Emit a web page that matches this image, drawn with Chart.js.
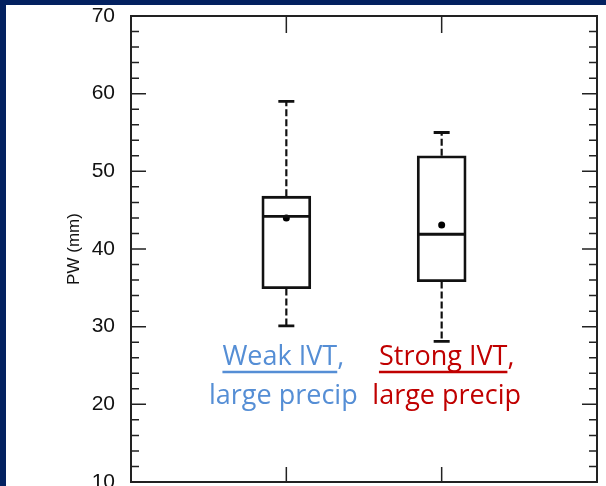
<!DOCTYPE html>
<html lang="en">
<head>
  <meta charset="UTF-8" />
  <title>PW box plot</title>
  <script src="https://cdn.jsdelivr.net/npm/chart.js"></script>
  <style>
    html, body {
      margin: 0;
      padding: 0;
      width: 606px;
      height: 486px;
      overflow: hidden;
      background: #032160;
    }
    .panel {
      position: absolute;
      left: 6px;
      top: 5px;
      width: 600px;
      height: 481px;
      background: #ffffff;
      overflow: hidden;
    }
  </style>
</head>
<body>
  <div class="panel">
    <canvas id="pwChart" width="600" height="520"></canvas>
  </div>

  <script>
    // box plot stats
    const categories = ['Weak IVT', 'Strong IVT'];
    const whiskerLow = [30.1, 28.1];
    const q1 = [34.9, 35.8];
    const median = [44.2, 41.9];
    const q3 = [46.8, 52.0];
    const whiskerHigh = [59.0, 55.0];
    const means = [44.0, 43.1];
    const yTicks = [10, 20, 30, 40, 50, 60, 70];

    const labelLine1 = ['Weak IVT', 'Strong IVT'];
    const labelLine2 = ['large precip', 'large precip'];
    const labelColors = ['#558ed5', '#c00000'];

    const boxPlotExtras = {
      id: 'boxPlotExtras',
      afterDatasetsDraw(chart) {
        const ctx = chart.ctx;
        const x = chart.scales.x;
        const y = chart.scales.y;
        const area = chart.chartArea;
        ctx.save();

        // whiskers
        ctx.strokeStyle = '#111';
        categories.forEach((c, i) => {
          const cx = x.getPixelForValue(i + 1);
          ctx.lineWidth = 2.2;
          ctx.setLineDash([7, 3]);
          ctx.beginPath();
          ctx.moveTo(cx, y.getPixelForValue(q3[i]));
          ctx.lineTo(cx, y.getPixelForValue(whiskerHigh[i]));
          ctx.moveTo(cx, y.getPixelForValue(q1[i]));
          ctx.lineTo(cx, y.getPixelForValue(whiskerLow[i]));
          ctx.stroke();
          ctx.setLineDash([]);
          ctx.lineWidth = 2.8;
          ctx.beginPath();
          [whiskerHigh[i], whiskerLow[i]].forEach(v => {
            ctx.moveTo(cx - 8, y.getPixelForValue(v));
            ctx.lineTo(cx + 8, y.getPixelForValue(v));
          });
          // median
          ctx.moveTo(cx - 24, y.getPixelForValue(median[i]));
          ctx.lineTo(cx + 24, y.getPixelForValue(median[i]));
          ctx.stroke();
        });

        // frame
        ctx.lineWidth = 2;
        ctx.strokeStyle = '#222';
        ctx.strokeRect(area.left, area.top, area.right - area.left, area.bottom - area.top);

        // inward ticks, left and right
        ctx.lineWidth = 1.5;
        ctx.beginPath();
        for (let v = y.min; v <= y.max; v += 2) {
          const py = y.getPixelForValue(v);
          const len = yTicks.includes(v) ? 15 : 8;
          ctx.moveTo(area.left, py);
          ctx.lineTo(area.left + len, py);
          ctx.moveTo(area.right, py);
          ctx.lineTo(area.right - len, py);
        }
        categories.forEach((c, i) => {
          const px = x.getPixelForValue(i + 1);
          ctx.moveTo(px, area.bottom);
          ctx.lineTo(px, area.bottom - 15);
          ctx.moveTo(px, area.top);
          ctx.lineTo(px, area.top + 17);
        });
        ctx.stroke();

        // category labels (slightly off-centre in the original)
        const shift = [-3, 5];
        ctx.font = '27px "Open Sans"';
        ctx.textAlign = 'left';
        ctx.textBaseline = 'alphabetic';
        categories.forEach((c, i) => {
          const cx = x.getPixelForValue(i + 1) + shift[i];
          ctx.fillStyle = labelColors[i];
          ctx.strokeStyle = labelColors[i];
          const w1 = ctx.measureText(labelLine1[i]).width;
          const wc = ctx.measureText(',').width;
          const left1 = cx - (w1 + wc) / 2;
          ctx.fillText(labelLine1[i] + ',', left1, area.top + 349);
          ctx.lineWidth = 2.5;
          ctx.beginPath();
          ctx.moveTo(left1, area.top + 356);
          ctx.lineTo(left1 + w1, area.top + 356);
          ctx.stroke();
          const w2 = ctx.measureText(labelLine2[i]).width;
          ctx.fillText(labelLine2[i], cx - w2 / 2, area.top + 388);
        });
        ctx.restore();
      }
    };

    const ctx = document.getElementById('pwChart').getContext('2d');
    const pwChart = new Chart(ctx, {
      type: 'bar',
      data: {
        datasets: [{
          type: 'bar',
          order: 1,
          data: categories.map((c, i) => ({ x: i + 1, y: [q1[i], q3[i]] })),
          backgroundColor: '#ffffff',
          borderColor: '#111',
          borderWidth: 2.8,
          borderSkipped: false,
          barThickness: 49
        }, {
          type: 'scatter',
          order: 0,
          data: means.map((m, i) => ({ x: i + 1, y: m })),
          pointRadius: 3.5,
          backgroundColor: '#000',
          borderWidth: 0
        }]
      },
      options: {
        responsive: false,
        animation: false,
        layout: { padding: { top: 11, right: 9, bottom: 43, left: 0 } },
        plugins: {
          legend: { display: false },
          tooltip: { enabled: false }
        },
        scales: {
          x: {
            type: 'linear',
            min: 0,
            max: 3,
            offset: false,
            display: false
          },
          y: {
            min: 10,
            max: 70,
            position: 'left',
            grid: { display: false, drawTicks: false },
            border: { display: false },
            ticks: {
              stepSize: 10,
              padding: 16,
              color: '#111',
              font: { family: '"Liberation Sans", Arial, sans-serif', size: 21 }
            },
            title: {
              display: true,
              text: 'PW (mm)',
              color: '#111',
              padding: { top: 58, bottom: 0 },
              font: { family: '"Liberation Sans", Arial, sans-serif', size: 17 }
            },
            afterFit(scale) {
              scale.width = 125;
              scale.paddingTop = 0;
              scale.paddingBottom = 0;
            }
          }
        }
      },
      plugins: [boxPlotExtras]
    });
  </script>
</body>
</html>
